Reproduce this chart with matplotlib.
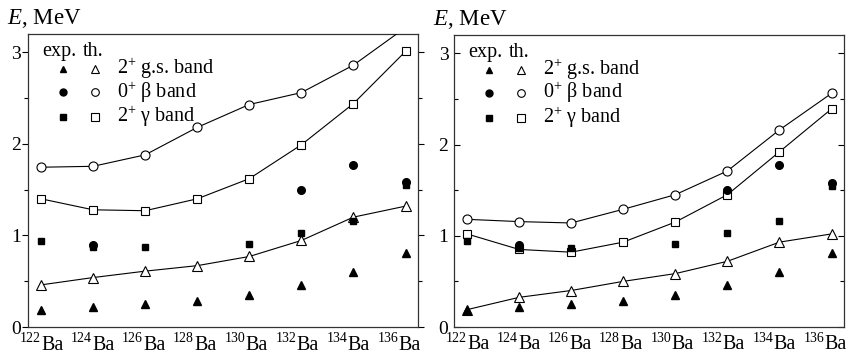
import matplotlib
matplotlib.use('Agg')
import matplotlib.pyplot as plt
from matplotlib.ticker import MultipleLocator

plt.rcParams['font.family'] = ['Liberation Serif', 'DejaVu Serif']
plt.rcParams['mathtext.fontset'] = 'custom'
plt.rcParams['mathtext.rm'] = 'Liberation Serif'
plt.rcParams['mathtext.it'] = 'Liberation Serif:italic'

# isotopes (mass numbers), drawn as  ^A Ba
isotopes = [122, 124, 126, 128, 130, 132, 134, 136]

# experiment (same in both panels); None = no point
exp_gs = [0.19, 0.22, 0.25, 0.28, 0.35, 0.46, 0.60, 0.81]
exp_beta = [None, 0.90, None, None, None, 1.50, 1.77, 1.58]
exp_gamma = [0.94, 0.87, 0.87, None, 0.91, 1.03, 1.16, 1.55]

# theory, left panel
thL_gs = [0.46, 0.54, 0.61, 0.67, 0.77, 0.945, 1.20, 1.32]
thL_beta = [1.745, 1.755, 1.88, 2.18, 2.43, 2.56, 2.86, 3.27]
thL_gamma = [1.40, 1.28, 1.27, 1.40, 1.62, 1.99, 2.44, 3.01]

# theory, right panel
thR_gs = [0.19, 0.325, 0.40, 0.50, 0.585, 0.72, 0.93, 1.02]
thR_beta = [1.18, 1.155, 1.14, 1.29, 1.45, 1.71, 2.16, 2.56]
thR_gamma = [1.02, 0.85, 0.82, 0.93, 1.15, 1.45, 1.92, 2.39]

FS_TICK = 14
FS_LEG = 14.5
FS_LAB = 16.5

fig = plt.figure(figsize=(8.51, 3.57), dpi=100)
axL = fig.add_axes([28/851, 30/357, 390/851, 293/357])
axR = fig.add_axes([454/851, 30/357, 390/851, 292/357])


def pts(vals):
    xs = [i for i, v in enumerate(vals) if v is not None]
    ys = [v for v in vals if v is not None]
    return xs, ys


def panel(ax, gs, beta, gamma, left_out):
    x = list(range(len(isotopes)))
    # theory lines with open markers
    ax.plot(x, gs, '-', color='black', lw=0.8, marker='^', ms=6.5,
            mfc='white', mec='black', mew=0.8, zorder=3)
    ax.plot(x, beta, '-', color='black', lw=0.8, marker='o', ms=6.5,
            mfc='white', mec='black', mew=0.8, zorder=3)
    ax.plot(x, gamma, '-', color='black', lw=0.8, marker='s', ms=6,
            mfc='white', mec='black', mew=0.8, zorder=3)
    # experiment, filled
    xs, ys = pts(exp_gs)
    ax.plot(xs, ys, '^', color='black', ms=5.5, zorder=4)
    xs, ys = pts(exp_beta)
    ax.plot(xs, ys, 'o', color='black', ms=5.5, zorder=4)
    xs, ys = pts(exp_gamma)
    ax.plot(xs, ys, 's', color='black', ms=5, zorder=4)

    ax.set_xlim(-0.25, 7.24)
    ax.set_ylim(0, 3.2)
    ax.set_xticks([])
    # isotope labels: small mass number + "Ba" (labels sit a bit tighter than points)
    tr = ax.get_xaxis_transform()
    for i, a in enumerate(isotopes):
        xb = i * 0.98
        ax.text(xb, -0.052, str(a), transform=tr, fontsize=10,
                ha='right', va='baseline')
        ax.text(xb + 0.01, -0.077, 'Ba', transform=tr, fontsize=FS_TICK + 0.5,
                ha='left', va='baseline')

    ax.yaxis.set_major_locator(MultipleLocator(1))
    ax.yaxis.set_minor_locator(MultipleLocator(0.5))
    ax.tick_params(axis='y', which='both', right=True, labelsize=FS_TICK,
                   direction='out' if left_out else 'in', width=0.8,
                   pad=1 if left_out else 4)
    ax.tick_params(axis='y', which='major', length=4)
    ax.tick_params(axis='y', which='minor', length=3)
    for s in ax.spines.values():
        s.set_linewidth(0.9)
        s.set_color('#333333')

    # hand-made legend
    ax.text(0.037, 0.94, 'exp.', transform=ax.transAxes, fontsize=FS_LEG,
            va='center', ha='left')
    ax.text(0.141, 0.94, 'th.', transform=ax.transAxes, fontsize=FS_LEG,
            va='center', ha='left')
    rows = [('^', r'2$^{+}$ g.s. band', 0.881),
            ('o', r'0$^{+}$ β band', 0.802),
            ('s', r'2$^{+}$ γ band', 0.717)]
    for m, lab, yy in rows:
        ax.plot([0.09], [yy], m, color='black', ms=5, transform=ax.transAxes,
                clip_on=False)
        ax.plot([0.172], [yy], m, mfc='white', mec='black', mew=0.8, ms=5.5,
                transform=ax.transAxes, clip_on=False)
        ax.text(0.228, yy, lab, transform=ax.transAxes, fontsize=FS_LEG,
                va='center', ha='left')

    ax.text(-0.055, 1.052, r'$E$, MeV', transform=ax.transAxes, fontsize=FS_LAB,
            va='center', ha='left')


panel(axL, thL_gs, thL_beta, thL_gamma, True)
panel(axR, thR_gs, thR_beta, thR_gamma, False)

fig.savefig('out.png', dpi=100)
